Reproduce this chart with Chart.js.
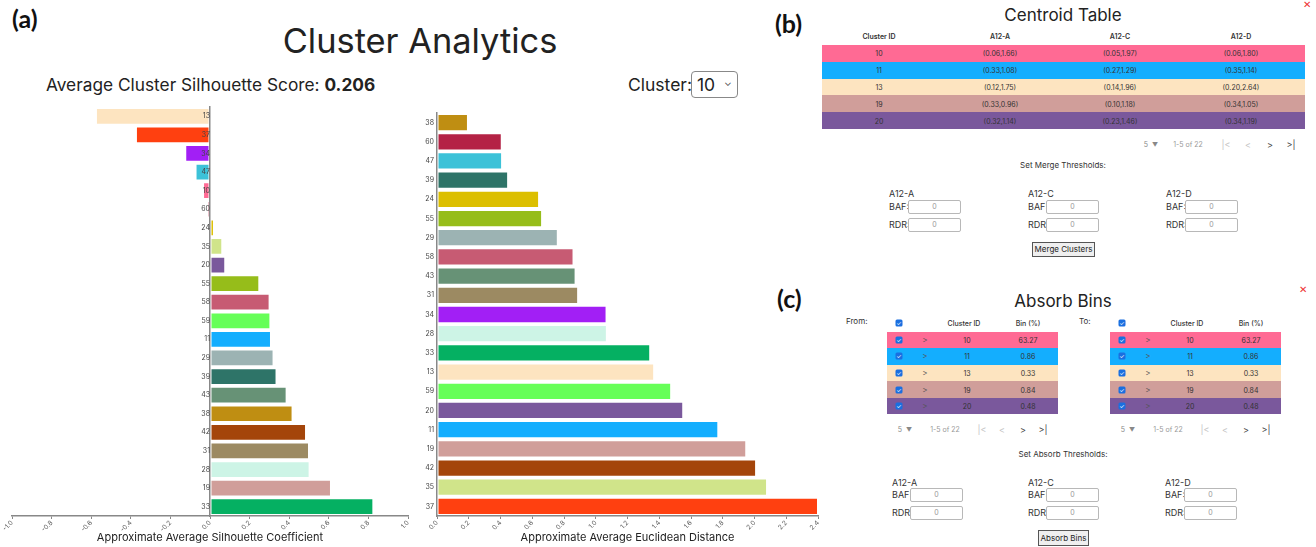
<!DOCTYPE html>
<html><head><meta charset="utf-8">
<script src="https://cdn.jsdelivr.net/npm/chart.js@4.4.0/dist/chart.umd.min.js"></script>
<style>
html,body{margin:0;padding:0;background:#fff;}
body{width:1316px;height:547px;position:relative;overflow:hidden;font-family:Inter,"Liberation Sans",Arial,sans-serif;color:#222;}
.abs{position:absolute;white-space:nowrap;}
.panel{position:absolute;font-family:Lato,"Open Sans",sans-serif;font-weight:700;font-size:25px;color:#111;}
.cell{position:absolute;transform:translate(-50%,-50%);font-size:7px;color:#333;white-space:nowrap;}
.hdr{position:absolute;transform:translate(-50%,-50%);font-size:7px;color:#333;font-weight:600;white-space:nowrap;}
.lbl{position:absolute;transform:translateY(-50%);font-size:9px;color:#333;white-space:nowrap;}
.inp{position:absolute;height:12px;border:1px solid #b8b8b8;border-radius:2px;font-size:7px;color:#999;text-align:center;line-height:12px;background:#fff;}
.btn{position:absolute;border:1px solid #555;background:#efefef;font-size:8px;color:#222;text-align:center;box-sizing:border-box;white-space:nowrap;}
.pg{position:absolute;transform:translate(-50%,-50%);font-size:7px;color:#999;white-space:nowrap;}
.cb{position:absolute;width:7px;height:7px;border-radius:1.5px;background:#1a6fe0;transform:translate(-50%,-50%);color:#fff;font-size:6px;line-height:7px;text-align:center;}
.x{position:absolute;color:#e33;font-size:10px;transform:translate(-50%,-50%);}
</style></head>
<body>
<div class="panel" style="left:12px;top:3px;">(a)</div>
<div class="panel" style="left:775px;top:8px;">(b)</div>
<div class="panel" style="left:777px;top:283px;">(c)</div>

<div class="abs" id="title" style="left:420px;top:40px;transform:translate(-50%,-50%);font-size:34.4px;color:#222;">Cluster Analytics</div>
<div class="abs" style="left:46px;top:84px;transform:translateY(-50%);font-size:17.3px;color:#222;">Average Cluster Silhouette Score: <b>0.206</b></div>
<div class="abs" style="left:628px;top:84px;transform:translateY(-50%);font-size:17.5px;color:#222;">Cluster:</div>
<div class="abs" style="left:691px;top:71px;width:45px;height:25px;border:1px solid #888;border-radius:4px;font-size:17.5px;line-height:25px;box-sizing:content-box;"><span style="position:absolute;left:5px;">10</span><span style="position:absolute;left:32px;top:-2px;font-size:10px;color:#444;">&#8964;</span></div>

<div style="position:absolute;left:0;top:98px;width:420px;height:449px;"><canvas id="sil"></canvas></div>
<div style="position:absolute;left:412px;top:98px;width:414px;height:449px;"><canvas id="dist"></canvas></div>

<div id="ui"></div>

<script>
// ---------- data ----------
const silClusters = ["13","37","34","47","10","60","24","35","20","55","58","59","11","29","39","43","38","42","31","28","19","33"];
const silValues   = [-0.576,-0.374,-0.125,-0.073,-0.035,-0.014,0.02,0.062,0.077,0.249,0.301,0.305,0.308,0.321,0.336,0.387,0.417,0.485,0.50,0.503,0.611,0.825];
const silTicks    = [-1.0,-0.8,-0.6,-0.4,-0.2,0.0,0.2,0.4,0.6,0.8,1.0];

const distClusters = ["38","60","47","39","24","55","29","58","43","31","34","28","33","13","59","20","11","19","42","35","37"];
const distValues   = [0.195,0.408,0.41,0.448,0.643,0.662,0.761,0.86,0.873,0.889,1.068,1.07,1.343,1.368,1.475,1.551,1.772,1.948,2.01,2.079,2.4];
const distTicks    = [0.0,0.2,0.4,0.6,0.8,1.0,1.2,1.4,1.6,1.8,2.0,2.2,2.4];

const centroidIds = ["10","11","13","19","20"];
const centroidA = ["(0.06,1.66)","(0.33,1.08)","(0.12,1.75)","(0.33,0.96)","(0.32,1.14)"];
const centroidC = ["(0.05,1.97)","(0.27,1.29)","(0.14,1.96)","(0.10,1.18)","(0.23,1.46)"];
const centroidD = ["(0.06,1.80)","(0.35,1.14)","(0.20,2.64)","(0.34,1.05)","(0.34,1.19)"];
const binIds = ["10","11","13","19","20"];
const binPct = ["63.27","0.86","0.33","0.84","0.48"];

// ---------- styles ----------
const clusterColors = {
 "13":"#fde4c0","37":"#ff4010","34":"#a21ff5","47":"#3cc2d8","10":"#ff6a94","60":"#b42245",
 "24":"#dcbf00","35":"#d0e48a","20":"#7a589c","55":"#96bd1a","58":"#c75b73","59":"#66ff58",
 "11":"#14aefe","29":"#9cb3b3","39":"#2e7468","43":"#679276","38":"#bf8e12","42":"#a4450a",
 "31":"#9c8a62","28":"#cdf4e6","19":"#d09e9a","33":"#05b062"
};

const tickFont = {family:"Inter, Liberation Sans, sans-serif", size:6.5};
function barChart(id, labels, values, ticks, min, max, title, pad, yPosition, yWidth){
  const tickSet = ticks.slice();
  const yOpts = {position:yPosition,
          ticks:{font:{family:"Inter, Liberation Sans, sans-serif", size:7}, color:'#444', padding:3, autoSkip:false, z:1},
          grid:{display:false, drawTicks:false},
          border:{display:true, color:'#888', width:1.5, z:1}};
  if (yWidth) yOpts.afterFit = (s)=>{ s.width = yWidth; };
  return new Chart(document.getElementById(id), {
    type:'bar',
    data:{labels:labels, datasets:[{data:values, backgroundColor:labels.map(c=>clusterColors[c]),
      borderColor:'rgba(255,255,255,0.8)', borderWidth:1, borderSkipped:false,
      categoryPercentage:0.9, barPercentage:1.0}]},
    options:{
      indexAxis:'y', responsive:true, maintainAspectRatio:false, animation:false,
      layout:{padding:pad},
      plugins:{legend:{display:false}, tooltip:{enabled:false}},
      scales:{
        x:{type:'linear', min:min, max:max,
          afterBuildTicks:(s)=>{s.ticks = tickSet.map(v=>({value:v}));},
          afterFit:(s)=>{ s.height = 31; },
          ticks:{font:tickFont, color:'#555', minRotation:45, maxRotation:45, padding:0,
                 callback:(v)=>Number(v).toFixed(1)},
          grid:{display:true, drawOnChartArea:false, drawTicks:true, tickLength:3, color:'#888'},
          border:{display:true, color:'#888', width:1.5},
          title:{display:true, text:title, font:{family:"Inter, Liberation Sans, sans-serif", size:11}, color:'#222', padding:{top:0,bottom:3}}
        },
        y:yOpts
      }
    }
  });
}
barChart('sil', silClusters, silValues, silTicks, -1, 1, 'Approximate Average Silhouette Coefficient', {left:12,right:12,top:9,bottom:0}, {x:0}, 0);
barChart('dist', distClusters, distValues, distTicks, 0, 2.4, 'Approximate Average Euclidean Distance', {left:5,right:8,top:15,bottom:0}, 'left', 20);

// ---------- UI panels ----------
const ui = document.getElementById('ui');
function add(html){ ui.insertAdjacentHTML('beforeend', html); }

add('<div class="x" style="left:1307px;top:4px;">&#x2715;</div>');
add('<div class="abs" style="left:1063px;top:15px;transform:translate(-50%,-50%);font-size:17px;color:#222;">Centroid Table</div>');
const cCols = [879,1000,1120,1241];
["Cluster ID","A12-A","A12-C","A12-D"].forEach((h,i)=>add(`<div class="hdr" style="left:${cCols[i]}px;top:36px;">${h}</div>`));
centroidIds.forEach((id,r)=>{
  const top = 45 + r*16.8;
  add(`<div style="position:absolute;left:822px;top:${top}px;width:483px;height:16.8px;background:${clusterColors[id]};"></div>`);
  [id,centroidA[r],centroidC[r],centroidD[r]].forEach((t,i)=>add(`<div class="cell" style="left:${cCols[i]}px;top:${top+8.4}px;">${t}</div>`));
});
function pager(y, x5, xr, icons){
  add(`<div class="pg" style="left:${x5}px;top:${y}px;color:#888;">5&nbsp;&nbsp;<span style="font-size:6px">&#9660;</span></div>`);
  add(`<div class="pg" style="left:${xr}px;top:${y}px;">1-5 of 22</div>`);
  const g = ["|&lt;","&lt;","&gt;","&gt;|"];
  icons.forEach((x,i)=>add(`<div class="pg" style="left:${x}px;top:${y}px;font-size:9px;color:${i<2?'#c4c4c4':'#444'};">${g[i]}</div>`));
}
pager(144, 1151, 1188, [1226,1248,1270,1291]);

add('<div class="abs" style="left:1063px;top:165px;transform:translate(-50%,-50%);font-size:8px;color:#333;">Set Merge Thresholds:</div>');
function thresholds(yHead, yB, yR, groups, inW){
  ["A12-A","A12-C","A12-D"].forEach((g,i)=>{
    const [lx,ix] = groups[i];
    add(`<div class="lbl" style="left:${lx}px;top:${yHead}px;">${g}</div>`);
    add(`<div class="lbl" style="left:${lx}px;top:${yB}px;">BAF:</div>`);
    add(`<div class="lbl" style="left:${lx}px;top:${yR}px;">RDR:</div>`);
    add(`<div class="inp" style="left:${ix}px;top:${yB-6.5}px;width:${inW}px;">0</div>`);
    add(`<div class="inp" style="left:${ix}px;top:${yR-6.5}px;width:${inW}px;">0</div>`);
  });
}
thresholds(193, 206, 224, [[889,908],[1028,1046],[1166,1185]], 51);
add('<div class="btn" style="left:1032px;top:242px;width:63px;height:15px;line-height:13px;">Merge Clusters</div>');

add('<div class="x" style="left:1303px;top:289px;">&#x2715;</div>');
add('<div class="abs" style="left:1063px;top:301px;transform:translate(-50%,-50%);font-size:17px;color:#222;">Absorb Bins</div>');
add('<div class="lbl" style="left:846px;top:321px;font-size:8px;">From:</div>');
add('<div class="lbl" style="left:1079px;top:321px;font-size:8px;">To:</div>');
[0,223].forEach(off=>{
  const x0 = 887+off;
  add(`<div class="cb" style="left:${899+off}px;top:323px;">&#10003;</div>`);
  add(`<div class="hdr" style="left:${964+off}px;top:323px;font-weight:500;">Cluster ID</div>`);
  add(`<div class="hdr" style="left:${1028+off}px;top:323px;font-weight:500;">Bin (%)</div>`);
  binIds.forEach((id,r)=>{
    const top = 331.5 + r*16.6;
    add(`<div style="position:absolute;left:${x0}px;top:${top}px;width:171px;height:16.6px;background:${clusterColors[id]};"></div>`);
    add(`<div class="cb" style="left:${899+off}px;top:${top+8.3}px;">&#10003;</div>`);
    add(`<div class="cell" style="left:${925+off}px;top:${top+8.3}px;font-size:8px;color:#555;">&gt;</div>`);
    add(`<div class="cell" style="left:${967+off}px;top:${top+8.3}px;">${id}</div>`);
    add(`<div class="cell" style="left:${1028+off}px;top:${top+8.3}px;">${binPct[r]}</div>`);
  });
  pager(429, 905+off, 945+off, [982+off,1002+off,1023+off,1043+off]);
});
add('<div class="abs" style="left:1063px;top:454px;transform:translate(-50%,-50%);font-size:8px;color:#333;">Set Absorb Thresholds:</div>');
thresholds(482, 494, 512, [[892,910],[1028,1046],[1165,1184]], 51);
add('<div class="btn" style="left:1038px;top:530px;width:51px;height:16px;line-height:14px;">Absorb Bins</div>');
</script>
</body></html>
